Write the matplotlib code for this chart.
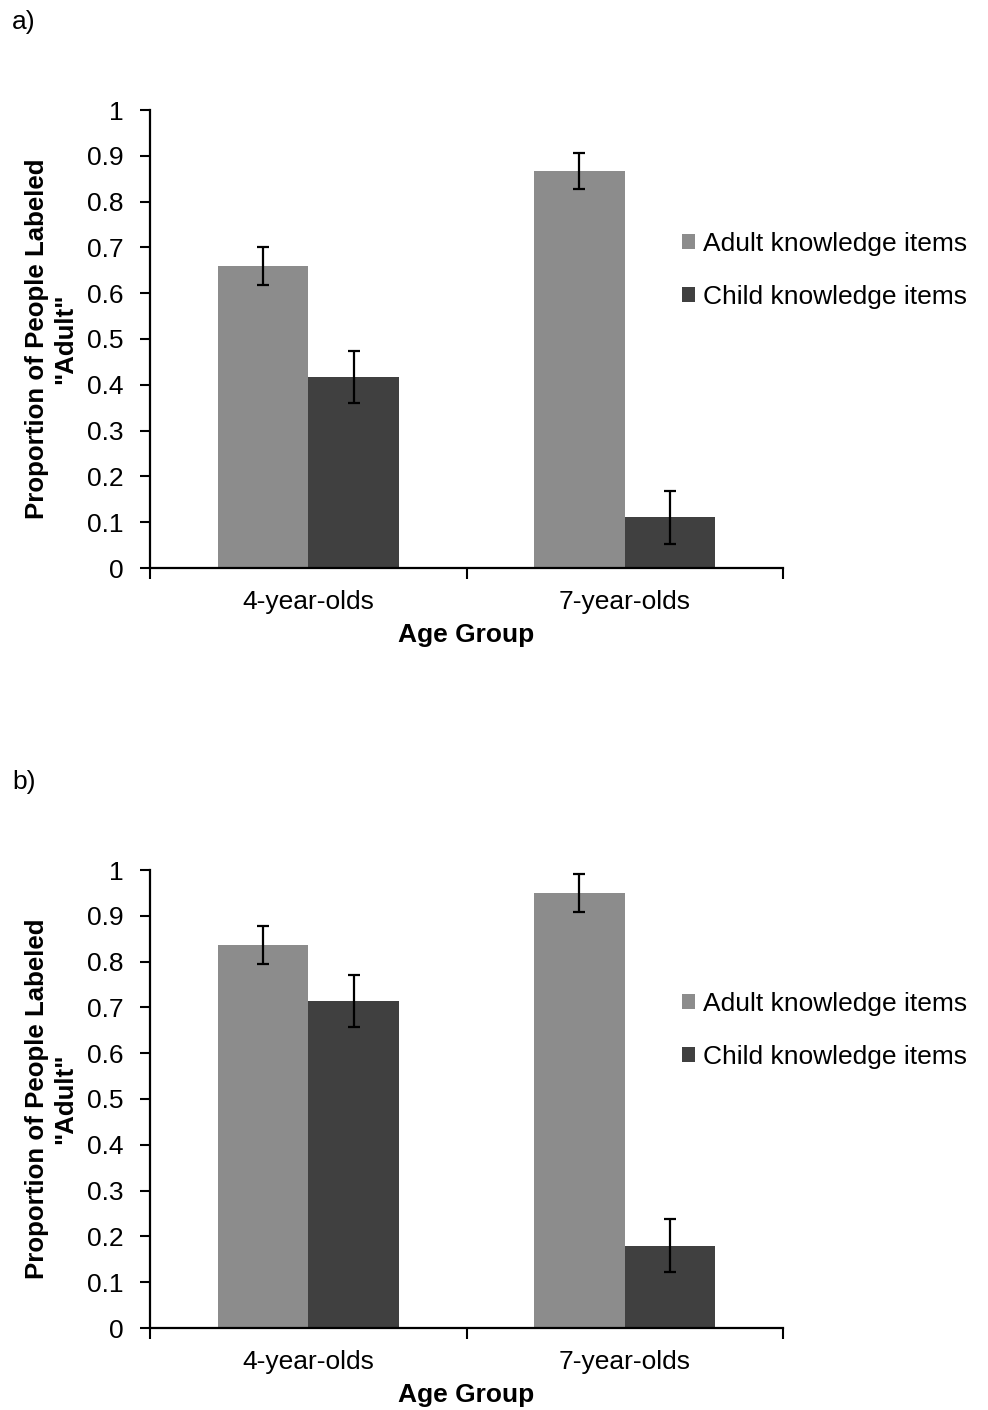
import matplotlib
matplotlib.use("Agg")
import matplotlib.pyplot as plt
import numpy as np

plt.rcParams['font.family'] = ['Liberation Sans', 'DejaVu Sans']

groups = ["4-year-olds", "7-year-olds"]
series = ["Adult knowledge items", "Child knowledge items"]
colors = ["#8c8c8c", "#404040"]

a_adult = [0.659, 0.867]
a_adult_err = [0.041, 0.040]
a_child = [0.417, 0.111]
a_child_err = [0.057, 0.058]

b_adult = [0.836, 0.950]
b_adult_err = [0.041, 0.041]
b_child = [0.714, 0.180]
b_child_err = [0.057, 0.057]

panels = [("a)", a_adult, a_adult_err, a_child, a_child_err),
          ("b)", b_adult, b_adult_err, b_child, b_child_err)]

W, H = 988, 1410
fig = plt.figure(figsize=(W / 100, H / 100), dpi=100)
FS = 19

tops = [110, 870]
bottoms = [568, 1328]
left_px, right_px = 150, 783

for (tag, adult, adult_err, child, child_err), top, bot in zip(panels, tops, bottoms):
    ax = fig.add_axes([left_px / W, 1 - bot / H, (right_px - left_px) / W, (bot - top) / H])
    x = np.arange(len(groups))
    w = 0.286
    ekw = dict(elinewidth=1.6, capthick=1.6, ecolor="black")
    ax.bar(x - w / 2, adult, w, color=colors[0], label=series[0],
           yerr=adult_err, capsize=4.5, error_kw=ekw)
    ax.bar(x + w / 2, child, w, color=colors[1], label=series[1],
           yerr=child_err, capsize=4.5, error_kw=ekw)
    ax.set_xlim(-0.5, 1.5)
    ax.set_ylim(0, 1)
    ax.set_yticks(np.arange(0, 1.01, 0.1))
    ax.set_yticklabels(["0"] + [f"{v:.1f}" for v in np.arange(0.1, 0.95, 0.1)] + ["1"])
    ax.set_xticks(x)
    ax.set_xticklabels(groups)
    ax.set_xticks([-0.5, 0.5, 1.5], minor=True)
    ax.tick_params(axis='x', which='major', length=0, pad=16, labelsize=FS)
    ax.tick_params(axis='x', which='minor', length=8, width=1.5, direction='out')
    ax.tick_params(axis='y', length=7, width=1.5, direction='out', pad=12, labelsize=FS)
    for s in ["top", "right"]:
        ax.spines[s].set_visible(False)
    for s in ["left", "bottom"]:
        ax.spines[s].set_linewidth(1.6)
    ax.set_xlabel("Age Group", fontsize=FS, fontweight='bold', labelpad=6)
    ax.set_ylabel("Proportion of People Labeled\n\"Adult\"", fontsize=18.6,
                  fontweight='bold', labelpad=7, linespacing=1.2)
    ax.legend(loc='center left', bbox_to_anchor=(0.824, 0.65), frameon=False,
              fontsize=FS, handlelength=0.5, handleheight=0.5, handletextpad=0.3,
              labelspacing=1.12, borderaxespad=0)
    fig.text(12 / W, 1 - (top - 88) / H, tag, fontsize=FS, va='center', ha='left')

fig.savefig("out.png", dpi=100)
